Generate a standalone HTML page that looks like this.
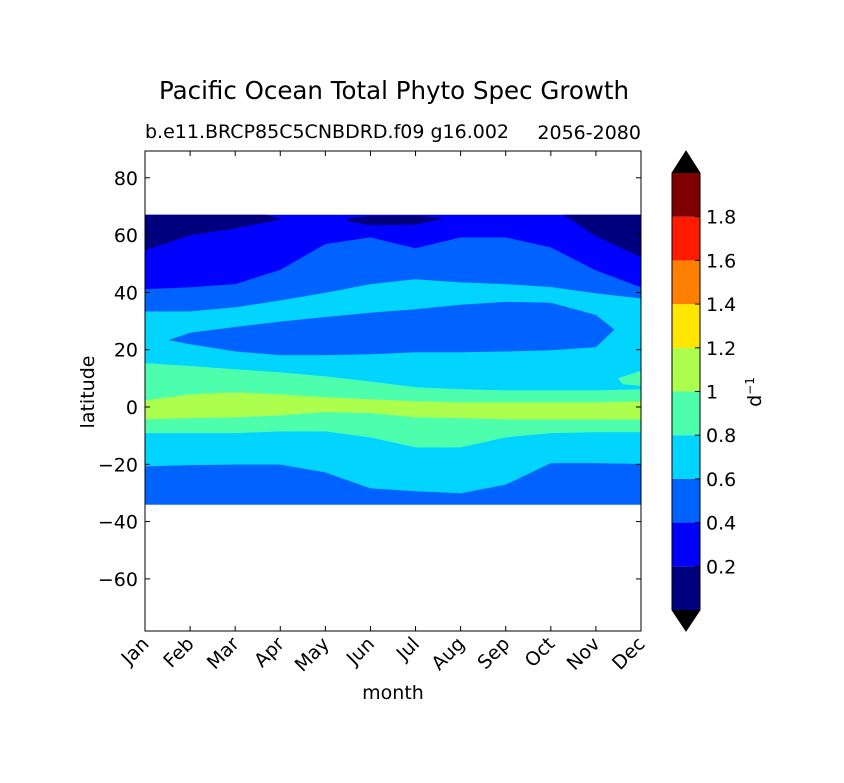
<!DOCTYPE html>
<html><head><meta charset="utf-8"><style>
body{margin:0;background:#fff;font-family:"Liberation Sans","DejaVu Sans",sans-serif}
svg text{font-family:"DejaVu Sans","Liberation Sans",sans-serif;fill:#000}
</style></head><body>
<svg id="c" width="844" height="778" viewBox="0 0 844 778">
<rect width="844" height="778" fill="#fff"/>
<text x="394" y="99" font-size="24.5" text-anchor="middle">Pacific Ocean Total Phyto Spec Growth</text>
<text x="145" y="138" font-size="19">b.e11.BRCP85C5CNBDRD.f09 g16.002</text>
<text x="641" y="139" font-size="19" text-anchor="end">2056-2080</text>
<g id="plot"></g>
<text x="393" y="699" font-size="19" text-anchor="middle">month</text>
<text transform="translate(94,392) rotate(-90)" font-size="19" text-anchor="middle">latitude</text>
<text transform="translate(761,392) rotate(-90)" font-size="19" text-anchor="middle">d<tspan dy="-7" font-size="12">−1</tspan></text>
</svg>
<script>
const months=["Jan","Feb","Mar","Apr","May","Jun","Jul","Aug","Sep","Oct","Nov","Dec"];
const yTicks=[80,60,40,20,0,-20,-40,-60];
const levels=[0,0.2,0.4,0.6,0.8,1.0,1.2,1.4,1.6,1.8,2.0];
const levelLabels=["0.2","0.4","0.6","0.8","1","1.2","1.4","1.6","1.8"];
const colors=["#00007f","#0000ff","#0062ff","#00d4ff","#4dffad","#adff4d","#ffe600","#ff7f00","#ff1a00","#7f0000"];
const latBottom=-34, latTop=67;
const b1=[-20.6,-20.2,-20,-20,-22.7,-28.3,-29.3,-30,-27,-19.5,-19.5,-19.8];
const b2=[-9,-9,-9,-8.4,-8.4,-10.5,-14,-14,-10.5,-9,-8.7,-8.7];
const b3=[-4.2,-3.8,-3.5,-2.8,-1.7,-2,-3.5,-3.8,-4.2,-4.2,-4.2,-4.2];
const b4=[2.4,4.5,5.2,4.5,3.5,2.8,2.1,1.7,1.7,1.7,1.7,2.1];
const b5=[15.4,14.4,13.3,12.2,10.8,9,7,6.3,5.9,5.9,5.9,6.3];
const b6=[33.5,33.5,34.9,37.3,40,43,44.7,43.6,43,42,39.8,38];
const b7=[41.2,41.9,43,48,57,59.3,55.5,59.3,59.3,55.8,47.8,41.9];
const blobM=[0.55,1,2,3,4,5,6,7,8,9,10,10.4,10,9,8,7,6,5,4,3,2,1];
const blobL=[23.4,25.8,27.8,29.7,31.3,32.8,34,35.6,36.6,36.3,32,27,21,19.9,19.5,19.2,19.2,18.5,18.2,18.2,19.5,22];
const navyLM=[0,1,2,3,2.7,0];
const navyLL=[54.8,60,62.5,65.5,67,67];
const navyRM=[9.3,10,11,11];
const navyRL=[67,59.7,52.4,67];
const navyPM=[4.5,5,6,6.6,6,5,4.5];
const navyPL=[65.8,66.5,66.8,65.8,63.8,63.5,65];
const aquaPM=[11,10.5,10.6,11];
const aquaPL=[12.5,10,8,7.5];

const NS="http://www.w3.org/2000/svg";
const svg=document.getElementById('plot');
const X0=145,X1=641,Y0=151,Y1=631;
const xs=m=>X0+(X1-X0)*m/11;
const ys=l=>407-l*2.865;
function el(t,a,p){const e=document.createElementNS(NS,t);for(const k in a)e.setAttribute(k,a[k]);(p||svg).appendChild(e);return e;}
function band(lo,hi,c,name){
  let pts=[];
  for(let i=0;i<12;i++)pts.push(xs(i)+","+ys(typeof lo==="number"?lo:lo[i]));
  for(let i=11;i>=0;i--)pts.push(xs(i)+","+ys(typeof hi==="number"?hi:hi[i]));
  const p=el('polygon',{points:pts.join(' '),fill:c,stroke:c,'stroke-width':0.6});
  
  
}
function island(ms,ls,c,name){
  const p=el('polygon',{points:ms.map((m,i)=>xs(m)+","+ys(ls[i])).join(' '),fill:c,stroke:c,'stroke-width':0.6});
  
  
}
band(latBottom,b1,colors[2],'band-south-0.4-0.6');
band(b1,b2,colors[3],'band-south-0.6-0.8');
band(b2,b3,colors[4],'band-south-0.8-1.0');
band(b3,b4,colors[5],'band-equator-1.0-1.2');
band(b4,b5,colors[4],'band-north-0.8-1.0');
band(b5,b6,colors[3],'band-north-0.6-0.8');
band(b6,b7,colors[2],'band-north-0.4-0.6');
band(b7,latTop,colors[1],'band-north-0.2-0.4');
island(blobM,blobL,colors[2],'blob-0.4-0.6');
island(navyLM,navyLL,colors[0],'navy-top-left');
island(navyRM,navyRL,colors[0],'navy-top-right');
island(navyPM,navyPL,colors[0],'navy-patch');
island(aquaPM,aquaPL,colors[4],'aqua-patch');
let f=el('rect',{x:X0,y:Y0,width:X1-X0,height:Y1-Y0,fill:'none',stroke:'#000','stroke-width':1});


months.forEach((m,i)=>{
  const x=xs(i);
  el('line',{x1:x,y1:Y1,x2:x,y2:Y1-5,stroke:'#000'});
  el('line',{x1:x,y1:Y0,x2:x,y2:Y0+5,stroke:'#000'});
  const t=el('text',{transform:`translate(${x+5},${Y1+14}) rotate(-45)`,'font-size':19,'text-anchor':'end'});
  t.textContent=m;
  
  
});
yTicks.forEach(v=>{
  const y=ys(v);
  el('line',{x1:X0,y1:y,x2:X0+5,y2:y,stroke:'#000'});
  el('line',{x1:X1,y1:y,x2:X1-5,y2:y,stroke:'#000'});
  const t=el('text',{x:X0-7,y:y+7,'font-size':19,'text-anchor':'end'});
  t.textContent=v<0?"−"+(-v):String(v);
  
  
});
const CX=672,CW=28,CB=610,CT=173;
const cs=v=>CB-(CB-CT)*v/2;
for(let i=0;i<10;i++){
  const r=el('rect',{x:CX,y:cs(levels[i+1]),width:CW,height:cs(levels[i])-cs(levels[i+1]),fill:colors[i]});
  
  
}
let tt=el('polygon',{points:`${CX},${CT} ${CX+CW},${CT} ${CX+CW/2},151`,fill:'#000'});


let tb=el('polygon',{points:`${CX},${CB} ${CX+CW},${CB} ${CX+CW/2},631`,fill:'#000'});


el('polygon',{points:`${CX+CW/2},151 ${CX+CW},${CT} ${CX+CW},${CB} ${CX+CW/2},631 ${CX},${CB} ${CX},${CT}`,fill:'none',stroke:'#000'});
levelLabels.forEach((s,i)=>{
  const y=cs(levels[i+1]);
  el('line',{x1:CX+CW,y1:y,x2:CX+CW-5,y2:y,stroke:'#000'});
  const t=el('text',{x:CX+CW+6,y:y+7,'font-size':19});
  t.textContent=s;
  
  
});
</script>
</body></html>
